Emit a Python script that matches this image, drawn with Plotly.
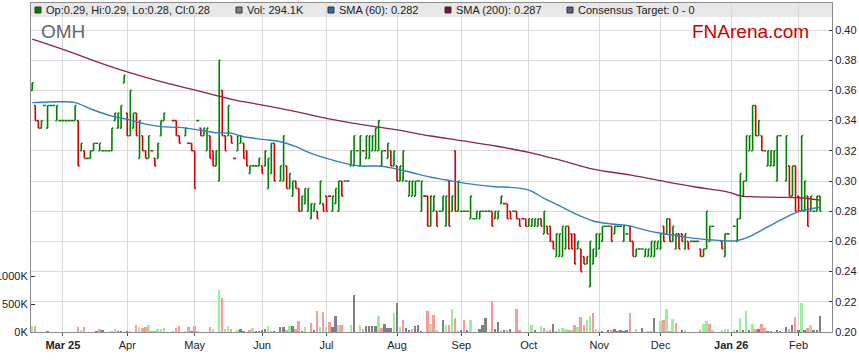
import pandas as pd
import plotly.graph_objects as go

# ---------------- data (prices in thousandths of a dollar) ----------------
dates = pd.bdate_range("2025-02-17", "2026-02-11")  # weekday slots; None = exchange holiday

high = [365,350,340,340,350,350,350,350,350,340,
        340,340,340,340,350,340,325,320,315,320,
        325,325,325,320,320,320,335,345,345,350,
        370,345,360,345,345,340,330,320,330,320,
        315,325,340,345,None,None,340,340,330,None,
        335,325,325,320,340,335,335,335,330,320,
        320,380,360,330,350,330,315,330,330,325,
        320,310,310,310,315,310,320,315,325,325,
        None,310,330,310,305,300,300,295,290,295,
        295,285,285,280,300,285,290,290,290,295,
        300,300,300,300,320,330,320,330,320,330,
        330,330,335,340,320,320,325,320,320,310,
        310,320,300,300,300,300,300,300,290,290,
        290,290,280,280,290,290,300,290,320,300,
        280,280,280,290,275,280,280,280,280,280,
        280,280,280,290,285,285,280,280,280,275,
        275,275,275,275,275,275,275,280,270,270,
        260,265,265,270,270,270,265,265,260,255,
        250,250,260,255,265,265,270,270,270,270,
        270,270,270,270,265,270,260,255,255,255,
        255,255,260,260,260,265,270,275,275,270,
        265,265,265,265,260,260,260,260,255,255,
        280,270,270,None,None,260,265,265,None,270,
        275,305,300,330,330,350,350,340,330,320,
        320,320,320,330,330,None,330,310,310,310,
        290,330,300,290,290,280,290,290]

low = [360,340,335,335,350,335,350,350,340,340,
       340,340,340,340,340,310,320,315,315,315,
       320,325,320,320,320,320,320,340,335,335,
       365,330,330,335,330,315,320,315,315,320,
       310,315,330,340,None,None,340,330,325,None,
       330,325,320,295,340,330,330,320,315,310,
       310,300,330,320,330,325,315,320,325,315,
       310,305,310,310,310,305,310,295,305,300,
       None,300,300,295,295,290,295,280,280,285,
       280,275,280,275,285,280,280,290,280,285,
       280,290,300,300,310,310,320,310,320,315,
       315,320,320,320,310,320,315,310,310,300,
       300,300,300,290,290,290,300,280,290,270,
       270,280,270,280,280,270,270,280,280,280,
       280,280,280,275,275,275,275,280,280,280,
       270,275,275,285,285,275,275,280,275,270,
       275,270,270,270,270,270,270,265,265,260,
       255,250,250,250,255,255,255,245,255,240,
       245,245,230,245,250,255,260,270,270,260,
       265,270,270,260,265,260,250,250,255,255,
       250,250,250,250,255,255,260,265,260,260,
       255,255,260,255,255,260,260,260,250,250,
       255,260,270,None,None,255,250,265,None,270,
       260,275,290,300,320,320,330,330,320,320,
       310,310,310,300,330,None,300,290,290,280,
       280,280,280,270,280,280,280,280]

opens = [360,350,340,335,350,335,350,350,340,340,
         340,340,340,340,340,340,320,320,315,315,
         320,325,320,320,320,320,320,340,335,335,
         365,345,330,335,345,315,330,320,315,320,
         315,315,330,340,None,None,340,340,330,None,
         330,325,325,320,340,335,330,320,330,320,
         310,300,360,330,330,330,315,320,325,325,
         320,305,310,310,310,310,310,295,305,325,
         None,300,300,310,295,290,300,295,280,285,
         280,275,280,280,285,285,290,290,280,285,
         280,300,300,300,310,310,320,310,320,315,
         315,320,320,320,310,320,315,320,310,310,
         300,300,300,290,290,290,300,280,290,290,
         270,280,280,280,280,270,300,280,320,280,
         280,280,280,275,275,275,275,280,280,280,
         280,275,275,285,285,285,280,280,280,275,
         275,275,270,270,270,270,275,265,270,270,
         260,250,250,250,255,270,265,265,255,255,
         250,245,230,245,250,255,260,270,270,270,
         265,270,270,260,265,270,260,250,255,255,
         250,250,250,250,255,255,270,265,275,260,
         255,265,265,255,260,260,260,260,255,250,
         255,260,270,None,None,260,250,265,None,270,
         260,275,290,300,320,320,350,330,330,320,
         310,310,310,300,330,None,300,310,290,310,
         290,280,280,290,280,280,280,290]

closes = [365,340,335,340,350,350,350,350,350,340,
          340,340,340,340,350,310,325,315,315,320,
          325,325,325,320,320,320,335,345,345,350,
          370,330,360,345,330,340,320,315,330,320,
          310,325,340,345,None,None,340,330,325,None,
          335,325,320,295,340,330,335,335,315,310,
          320,380,330,320,350,325,315,330,330,315,
          310,310,310,310,315,305,320,315,325,300,
          None,310,330,295,305,300,295,280,290,295,
          295,285,285,275,300,280,280,290,290,295,
          300,290,300,300,320,330,320,330,320,330,
          330,330,335,340,320,320,325,310,320,300,
          310,320,300,300,300,300,300,300,290,270,
          290,290,270,280,290,290,270,290,280,300,
          280,280,280,290,275,280,280,280,280,280,
          270,280,280,290,285,275,275,280,275,270,
          275,270,275,275,275,275,270,280,265,260,
          255,265,265,270,270,255,255,245,260,240,
          245,250,260,255,265,265,270,270,270,260,
          270,270,270,270,265,260,250,255,255,255,
          255,255,260,260,260,265,260,275,260,270,
          265,255,260,265,255,260,260,260,250,255,
          280,270,270,None,None,255,265,265,None,270,
          275,305,300,330,330,350,330,340,320,320,
          320,320,320,330,330,None,330,290,310,280,
          280,330,300,270,290,280,290,280]

# bar colour: 1 = up (green), -1 = down (red)
direction = [1,-1,-1,1,1,1,1,1,1,1,
             1,1,1,1,1,-1,1,-1,1,1,
             1,1,1,1,1,1,1,1,1,1,
             1,-1,1,1,-1,1,-1,-1,1,-1,
             -1,1,1,1,0,0,-1,-1,-1,0,
             1,-1,-1,-1,1,-1,1,1,-1,-1,
             1,1,-1,-1,1,-1,-1,1,1,-1,
             -1,1,1,1,1,-1,1,1,1,-1,
             0,1,1,-1,1,1,-1,-1,1,1,
             1,1,1,-1,1,-1,-1,-1,1,1,
             1,-1,1,1,1,1,1,1,-1,1,
             1,1,1,1,1,-1,1,-1,1,-1,
             1,1,1,1,1,1,1,1,-1,-1,
             1,1,-1,1,1,1,-1,1,-1,1,
             1,1,1,1,1,1,1,1,1,-1,
             -1,1,1,1,-1,-1,-1,1,-1,-1,
             -1,-1,1,1,1,1,-1,1,-1,-1,
             -1,1,1,1,1,-1,-1,-1,1,-1,
             -1,1,1,1,1,1,1,1,1,-1,
             1,1,1,1,1,-1,-1,1,1,1,
             1,1,1,1,1,1,-1,1,-1,1,
             1,-1,-1,1,-1,1,-1,1,-1,1,
             1,1,1,0,0,-1,1,1,0,1,
             1,1,1,1,1,1,-1,1,-1,1,
             1,1,1,1,1,0,1,-1,1,-1,
             -1,1,1,-1,1,1,1,1]

# volume in thousands; vol_dir: 1 up, -1 down, 0 unchanged
volume_k = [117,105,0,0,0,15,0,0,0,0,
            0,0,0,0,0,87,27,87,0,0,
            0,15,63,27,0,0,15,63,15,15,
            0,15,15,0,135,99,70,87,135,15,
            15,51,51,70,None,None,15,75,117,None,
            15,87,15,105,15,0,0,0,87,51,
            0,750,612,51,117,51,0,27,51,15,
            0,27,75,15,15,27,51,117,15,15,
            None,87,99,39,117,117,51,196,15,87,
            0,160,39,376,99,358,99,178,99,280,
            130,130,0,0,130,677,0,130,51,111,
            111,111,111,280,75,153,75,75,352,532,
            87,220,75,27,51,111,123,15,0,388,
            147,298,27,0,208,135,135,424,244,27,
            27,220,27,208,0,0,63,135,244,0,
            551,51,184,15,27,39,51,0,424,27,
            0,0,0,135,27,0,117,75,15,39,
            153,15,51,75,51,39,27,135,99,268,
            135,208,280,352,51,27,15,0,27,27,
            63,15,27,15,27,340,0,63,0,75,
            0,15,15,244,0,196,208,424,15,232,
            160,0,27,27,0,0,0,0,27,147,
            196,147,39,None,None,39,63,51,None,27,
            27,256,39,376,39,147,51,63,147,75,
            15,15,0,39,15,None,99,51,135,268,
            39,532,27,75,135,39,39,294]

vol_dir = [1,-1,0,0,0,0,0,0,0,0,
           0,0,0,0,0,-1,1,-1,0,0,
           0,0,-1,0,0,0,1,1,0,0,
           0,0,1,0,-1,1,-1,-1,1,-1,
           -1,1,1,1,0,0,-1,-1,-1,0,
           1,-1,0,-1,1,0,0,0,-1,1,
           0,1,-1,1,1,-1,0,1,0,0,
           0,-1,1,0,0,0,0,1,-1,0,
           0,0,0,-1,1,0,-1,-1,0,1,
           0,-1,0,-1,1,-1,1,-1,0,0,
           1,-1,0,0,1,0,0,1,-1,0,
           0,0,0,1,-1,0,0,0,1,0,
           1,-1,0,0,-1,0,0,0,0,-1,
           1,-1,1,0,0,1,-1,1,-1,1,
           0,-1,0,1,0,0,0,0,0,0,
           -1,0,0,-1,0,-1,0,0,-1,-1,
           0,0,0,1,0,0,1,-1,-1,-1,
           0,-1,1,1,1,-1,1,-1,1,-1,
           -1,1,1,-1,1,1,0,0,0,-1,
           0,0,0,0,0,-1,0,1,0,0,
           0,-1,-1,0,0,1,-1,1,-1,1,
           -1,0,0,1,0,0,0,0,-1,1,
           1,-1,1,0,0,1,1,1,0,1,
           0,1,0,1,0,1,-1,0,-1,-1,
           0,0,0,0,0,0,0,-1,0,-1,
           0,1,0,-1,1,0,0,0]

sma60_dates = ["2025-02-17","2025-03-03","2025-03-07","2025-03-17","2025-03-25","2025-04-01",
               "2025-04-09","2025-04-16","2025-04-24","2025-05-01","2025-05-12","2025-05-19",
               "2025-05-23","2025-06-02","2025-06-10","2025-06-17","2025-06-24","2025-07-01",
               "2025-07-09","2025-07-16","2025-07-24","2025-07-31","2025-08-08","2025-08-18",
               "2025-08-25","2025-09-01","2025-09-08","2025-09-16","2025-09-23","2025-10-01",
               "2025-10-08","2025-10-16","2025-10-23","2025-10-30","2025-11-07","2025-11-17",
               "2025-11-24","2025-12-01","2025-12-09","2025-12-16","2025-12-24","2025-12-31",
               "2026-01-05","2026-01-09","2026-01-15","2026-01-22","2026-01-29","2026-02-03",
               "2026-02-11"]
sma60_vals = [0.3519,0.3525,0.3519,0.3470,0.3430,0.3408,
              0.3377,0.3360,0.3355,0.3342,0.3320,0.3316,
              0.3293,0.3276,0.3260,0.3227,0.3183,0.3150,
              0.3117,0.3099,0.3099,0.3084,0.3055,0.3025,
              0.3007,0.2989,0.2974,0.2962,0.2958,0.2940,
              0.2885,0.2826,0.2775,0.2735,0.2715,0.2702,
              0.2675,0.2654,0.2636,0.2620,0.2609,0.2603,
              0.2605,0.2631,0.2675,0.2730,0.2781,0.2803,
              0.2826]

sma200_dates = ["2025-02-17","2025-03-03","2025-03-17","2025-04-01","2025-04-16","2025-05-01",
                "2025-05-19","2025-06-02","2025-06-17","2025-07-01","2025-07-16","2025-07-31",
                "2025-08-18","2025-09-01","2025-09-16","2025-10-01","2025-10-16","2025-10-30",
                "2025-11-17","2025-12-01","2025-12-16","2025-12-31","2026-01-06","2026-01-09",
                "2026-01-22","2026-02-02","2026-02-11"]
sma200_vals = [0.3940,0.3872,0.3797,0.3722,0.3658,0.3603,
               0.3541,0.3503,0.3459,0.3415,0.3375,0.3342,
               0.3298,0.3267,0.3232,0.3190,0.3134,0.3079,
               0.3040,0.3002,0.2962,0.2927,0.2901,0.2896,
               0.2892,0.2889,0.2874]

month_ticks = ["2025-03-03","2025-04-01","2025-05-01","2025-06-02","2025-07-01","2025-08-01",
               "2025-09-01","2025-10-01","2025-11-03","2025-12-01","2026-01-01","2026-02-02"]
month_labels = ["<b>Mar 25</b>","Apr","May","Jun","Jul","Aug",
                "Sep","Oct","Nov","Dec","<b>Jan 26</b>","Feb"]

price_ticks = [0.20,0.22,0.24,0.26,0.28,0.30,0.32,0.34,0.36,0.38,0.40]
vol_ticks = [0, 500000, 1000000]
vol_tick_labels = ["0K", "500K", "1000K"]

legend_items = [("#008000", "Op:0.29, Hi:0.29, Lo:0.28, Cl:0.28"),
                ("#808080", "Vol: 294.1K"),
                ("#1f6fb2", "SMA (60): 0.282"),
                ("#7a0f30", "SMA (200): 0.287"),
                ("#60608f", "Consensus Target: 0 - 0")]

# ---------------- figure ----------------
FONT = "Liberation Sans, Arial, sans-serif"
W, H = 859, 363
L, R, T, B = 31, 27, 3, 31
PW, PH = W - L - R, H - T - B


def noon(d):
    return f"{pd.Timestamp(d):%Y-%m-%d} 12:00"


xs = [noon(d) for d in dates]
n = len(xs)

fig = go.Figure()

for sign, color in ((1, "#008000"), (-1, "#d00000")):
    idx = [i for i in range(n) if direction[i] == sign and high[i] is not None]
    fig.add_trace(go.Ohlc(
        x=[xs[i] for i in idx],
        open=[opens[i] / 1000 for i in idx],
        high=[high[i] / 1000 for i in idx],
        low=[low[i] / 1000 for i in idx],
        close=[closes[i] / 1000 for i in idx],
        increasing=dict(line=dict(color=color, width=1.6)),
        decreasing=dict(line=dict(color=color, width=1.6)),
        tickwidth=0.45, showlegend=False, hoverinfo="skip", yaxis="y"))

fig.add_trace(go.Scatter(x=[noon(d) for d in sma200_dates], y=sma200_vals, mode="lines",
                         line=dict(color="#8a2448", width=1.3, shape="spline"),
                         showlegend=False, hoverinfo="skip", yaxis="y"))
fig.add_trace(go.Scatter(x=[noon(d) for d in sma60_dates], y=sma60_vals, mode="lines",
                         line=dict(color="#2f80c4", width=1.4, shape="spline"),
                         showlegend=False, hoverinfo="skip", yaxis="y"))

vcol = {1: "#99ee99", -1: "#ff9999", 0: "#808080"}
vidx = [i for i in range(n) if volume_k[i]]
fig.add_trace(go.Bar(x=[xs[i] for i in vidx], y=[volume_k[i] * 1000 for i in vidx],
                     marker=dict(color=[vcol[vol_dir[i]] for i in vidx], line=dict(width=0)),
                     width=0.62 * 86400000, showlegend=False, hoverinfo="skip", yaxis="y2"))


def px_x(p):
    return (p - L) / PW


def px_y(p):
    return (H - B - p) / PH


shapes = [dict(type="rect", xref="paper", yref="paper", x0=0, x1=1,
               y0=px_y(17), y1=1, fillcolor="#e8e8e8", line=dict(width=0), layer="below")]
annotations = []
legend_x = [35, 236, 328, 445, 567]
for (col, txt), lx in zip(legend_items, legend_x):
    shapes.append(dict(type="rect", xref="paper", yref="paper",
                       x0=px_x(lx), x1=px_x(lx + 6), y0=px_y(13), y1=px_y(7),
                       fillcolor=col, line=dict(color="#333333", width=1), layer="above"))
    annotations.append(dict(xref="paper", yref="paper", x=px_x(lx + 10), y=px_y(10),
                            text=txt, showarrow=False, xanchor="left", yanchor="middle",
                            font=dict(family=FONT, size=11, color="#222222"), borderpad=0))

annotations.append(dict(xref="paper", yref="paper", x=px_x(40), y=px_y(32), text="OMH",
                        showarrow=False, xanchor="left", yanchor="middle", borderpad=0,
                        font=dict(family=FONT, size=19, color="#666666")))
annotations.append(dict(xref="paper", yref="paper", x=px_x(691), y=px_y(32), text="FNArena.com",
                        showarrow=False, xanchor="left", yanchor="middle", borderpad=0,
                        font=dict(family=FONT, size=19, color="#cc0000")))

fig.update_layout(
    width=W, height=H, margin=dict(l=L, r=R, t=T, b=B, pad=0, autoexpand=False),
    paper_bgcolor="white", plot_bgcolor="white", hovermode=False,
    showlegend=False, bargap=0, font=dict(family=FONT, size=11, color="#222222"),
    shapes=shapes, annotations=annotations,
    xaxis=dict(type="date", rangebreaks=[dict(bounds=["sat", "mon"])],
               range=["2025-02-17 02:24", "2026-02-17 09:36"], automargin=False,
               tickvals=[noon(d) for d in month_ticks], ticktext=month_labels,
               showgrid=True, gridcolor="#d9d9d9", gridwidth=1,
               showline=True, mirror=True, linecolor="#8c8c8c", linewidth=1,
               ticks="outside", ticklen=3, tickcolor="#555555",
               rangeslider=dict(visible=False), zeroline=False,
               tickfont=dict(family=FONT, size=11, color="#222222")),
    yaxis=dict(side="right", range=[0.2, 0.2 + PH / 1510], tickvals=price_ticks, automargin=False,
               tickformat=".2f", showgrid=True, gridcolor="#d9d9d9", gridwidth=1,
               showline=True, linecolor="#8c8c8c", linewidth=1, zeroline=False,
               ticks="inside", ticklen=3, tickcolor="#333333",
               tickfont=dict(family=FONT, size=11, color="#222222")),
    yaxis2=dict(overlaying="y", side="left", range=[0, 5940000], tickvals=vol_ticks,
                ticktext=vol_tick_labels, showgrid=False, zeroline=False, automargin=False,
                showline=True, linecolor="#8c8c8c", linewidth=1,
                ticks="inside", ticklen=4, tickcolor="#333333",
                tickfont=dict(family=FONT, size=11, color="#222222")),
)

fig.write_html("out.html", config={"responsive": False, "displayModeBar": False},
               post_script="document.body.style.margin='0';document.body.style.padding='0';"
                           "document.body.style.overflow='hidden';")
